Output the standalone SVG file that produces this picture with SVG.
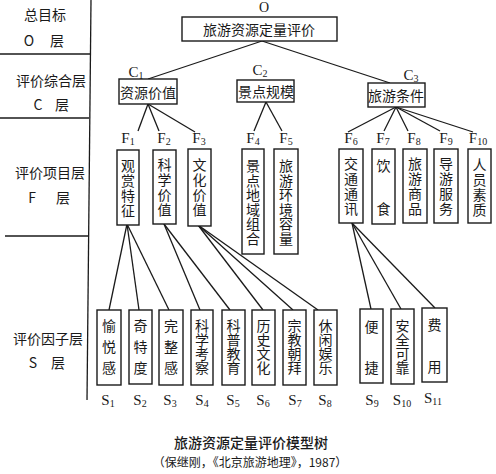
<svg xmlns="http://www.w3.org/2000/svg" width="496" height="474" viewBox="0 0 496 474">
<style>
.bg{fill:#fff}
.box{fill:#fff;stroke:#1a1a1a;stroke-width:1.4}
.ln{stroke:#1a1a1a;stroke-width:1.3;fill:none}
.cj{font-family:"Noto Sans CJK SC","Noto Sans",sans-serif;font-size:14px;fill:#1a1a1a;text-anchor:middle;dominant-baseline:central}
.vt{font-family:"Noto Sans CJK SC","Noto Sans",sans-serif;font-size:14px;fill:#1a1a1a;writing-mode:vertical-rl;text-anchor:start;dominant-baseline:central}
.lt{font-family:"Liberation Serif","DejaVu Serif",serif;font-size:15px;fill:#1a1a1a;text-anchor:middle}
.sub{font-size:10px}
.ttl{font-family:"Noto Sans CJK SC",sans-serif;font-size:14px;font-weight:500;fill:#1a1a1a;text-anchor:middle}
.cap{font-family:"Noto Sans CJK SC",sans-serif;font-size:12px;fill:#1a1a1a;text-anchor:middle}
</style>
<rect class="bg" x="0" y="0" width="496" height="474"/>
<g id="layers">
<line class="ln" x1="91" y1="0" x2="87" y2="400"/>
<line class="ln" x1="0" y1="54" x2="90" y2="54"/>
<line class="ln" x1="0" y1="118" x2="89" y2="118"/>
<line class="ln" x1="5" y1="236" x2="88" y2="236"/>
<text class="cj" x="45" y="14">总目标</text>
<text class="cj" x="29" y="40">O</text><text class="cj" x="57" y="40">层</text>
<text class="cj" x="51" y="80">评价综合层</text>
<text class="cj" x="38" y="104">C</text><text class="cj" x="62" y="104">层</text>
<text class="cj" x="50" y="172">评价项目层</text>
<text class="cj" x="32" y="197">F</text><text class="cj" x="63" y="197">层</text>
<text class="cj" x="48" y="338">评价因子层</text>
<text class="cj" x="33" y="362">S</text><text class="cj" x="58" y="362">层</text>
</g>
<g id="connectors">
<line class="ln" x1="262" y1="41" x2="148" y2="79"/>
<line class="ln" x1="262" y1="41" x2="390" y2="83"/>
<line class="ln" x1="148" y1="104" x2="138" y2="131"/>
<line class="ln" x1="148" y1="104" x2="159" y2="131"/>
<line class="ln" x1="148" y1="104" x2="195" y2="132"/>
<line class="ln" x1="266" y1="102" x2="254" y2="131"/>
<line class="ln" x1="266" y1="102" x2="282" y2="131"/>
<line class="ln" x1="396" y1="107" x2="348" y2="132"/>
<line class="ln" x1="396" y1="107" x2="384" y2="131"/>
<line class="ln" x1="396" y1="107" x2="408" y2="131"/>
<line class="ln" x1="396" y1="107" x2="440" y2="131"/>
<line class="ln" x1="396" y1="107" x2="473" y2="132"/>
<line class="ln" x1="127" y1="224" x2="109" y2="310"/>
<line class="ln" x1="127" y1="224" x2="139" y2="310"/>
<line class="ln" x1="127" y1="224" x2="169" y2="310"/>
<line class="ln" x1="164" y1="224" x2="200" y2="310"/>
<line class="ln" x1="164" y1="224" x2="230" y2="310"/>
<line class="ln" x1="198" y1="225" x2="263" y2="310"/>
<line class="ln" x1="198" y1="225" x2="293" y2="310"/>
<line class="ln" x1="198" y1="225" x2="318" y2="310"/>
<line class="ln" x1="352" y1="223" x2="371" y2="309"/>
<line class="ln" x1="352" y1="223" x2="401" y2="309"/>
<line class="ln" x1="352" y1="223" x2="435" y2="308"/>
</g>
<g id="O">
<text class="lt" x="264" y="12" style="font-size:14px">O</text>
<rect class="box" x="182" y="17" width="155" height="24"/>
<text class="cj" x="259" y="29">旅游资源定量评价</text>
</g>
<g id="C1">
<text class="lt" x="136" y="77">C<tspan class="sub" dy="2">1</tspan></text>
<rect class="box" x="119" y="79" width="58" height="25"/>
<text class="cj" x="148" y="92">资源价值</text>
</g>
<g id="C2">
<text class="lt" x="260" y="75">C<tspan class="sub" dy="2">2</tspan></text>
<rect class="box" x="237" y="80" width="57" height="22"/>
<text class="cj" x="266" y="91">景点规模</text>
</g>
<g id="C3">
<text class="lt" x="411" y="80">C<tspan class="sub" dy="2">3</tspan></text>
<rect class="box" x="368" y="83" width="57" height="24"/>
<text class="cj" x="396" y="95">旅游条件</text>
</g>
<g id="F1">
<text class="lt" x="128" y="143">F<tspan class="sub" dy="2">1</tspan></text>
<rect class="box" x="117" y="150" width="22" height="75"/>
<text class="vt" x="128" y="159" style="letter-spacing:1px">观赏特征</text>
</g>
<g id="F2">
<text class="lt" x="164" y="143">F<tspan class="sub" dy="2">2</tspan></text>
<rect class="box" x="153" y="150" width="23" height="74"/>
<text class="vt" x="164.5" y="158" style="letter-spacing:1px">科学价值</text>
</g>
<g id="F3">
<text class="lt" x="199" y="143">F<tspan class="sub" dy="2">3</tspan></text>
<rect class="box" x="188" y="149" width="23" height="77"/>
<text class="vt" x="199.5" y="158" style="letter-spacing:1px">文化价值</text>
</g>
<g id="F4">
<text class="lt" x="253" y="143">F<tspan class="sub" dy="2">4</tspan></text>
<rect class="box" x="242" y="149" width="22" height="105"/>
<text class="vt" x="253" y="159" style="letter-spacing:0.5px">景点地域组合</text>
</g>
<g id="F5">
<text class="lt" x="286" y="143">F<tspan class="sub" dy="2">5</tspan></text>
<rect class="box" x="274" y="149" width="24" height="105"/>
<text class="vt" x="286" y="159" style="letter-spacing:0.5px">旅游环境容量</text>
</g>
<g id="F6">
<text class="lt" x="351" y="143">F<tspan class="sub" dy="2">6</tspan></text>
<rect class="box" x="339" y="149" width="24" height="74"/>
<text class="vt" x="351" y="157" style="letter-spacing:1px">交通通讯</text>
</g>
<g id="F7">
<text class="lt" x="383" y="143">F<tspan class="sub" dy="2">7</tspan></text>
<rect class="box" x="372" y="149" width="23" height="75"/>
<text class="vt" x="383.5" y="159" style="letter-spacing:29px">饮食</text>
</g>
<g id="F8">
<text class="lt" x="414" y="143">F<tspan class="sub" dy="2">8</tspan></text>
<rect class="box" x="403" y="149" width="24" height="74"/>
<text class="vt" x="415" y="157" style="letter-spacing:1px">旅游商品</text>
</g>
<g id="F9">
<text class="lt" x="446" y="143">F<tspan class="sub" dy="2">9</tspan></text>
<rect class="box" x="434" y="149" width="24" height="74"/>
<text class="vt" x="446" y="157" style="letter-spacing:1px">导游服务</text>
</g>
<g id="F10">
<text class="lt" x="478" y="143">F<tspan class="sub" dy="2">10</tspan></text>
<rect class="box" x="468" y="149" width="23" height="74"/>
<text class="vt" x="479.5" y="158" style="letter-spacing:1px">人员素质</text>
</g>
<g id="S1">
<rect class="box" x="97" y="310" width="24" height="75"/>
<text class="vt" x="109" y="319" style="letter-spacing:7px">愉悦感</text>
<text class="lt" x="108" y="405">S<tspan class="sub" dy="2">1</tspan></text>
</g>
<g id="S2">
<rect class="box" x="129" y="310" width="23" height="74"/>
<text class="vt" x="140.5" y="319" style="letter-spacing:7px">奇特度</text>
<text class="lt" x="140" y="405">S<tspan class="sub" dy="2">2</tspan></text>
</g>
<g id="S3">
<rect class="box" x="159" y="310" width="24" height="75"/>
<text class="vt" x="171" y="319" style="letter-spacing:7px">完整感</text>
<text class="lt" x="170" y="405">S<tspan class="sub" dy="2">3</tspan></text>
</g>
<g id="S4">
<rect class="box" x="191" y="310" width="22" height="75"/>
<text class="vt" x="202" y="319">科学考察</text>
<text class="lt" x="202" y="405">S<tspan class="sub" dy="2">4</tspan></text>
</g>
<g id="S5">
<rect class="box" x="222" y="310" width="23" height="75"/>
<text class="vt" x="233.5" y="319">科普教育</text>
<text class="lt" x="233" y="405">S<tspan class="sub" dy="2">5</tspan></text>
</g>
<g id="S6">
<rect class="box" x="252" y="310" width="23" height="75"/>
<text class="vt" x="263.5" y="319">历史文化</text>
<text class="lt" x="263" y="405">S<tspan class="sub" dy="2">6</tspan></text>
</g>
<g id="S7">
<rect class="box" x="283" y="310" width="23" height="75"/>
<text class="vt" x="294.5" y="319">宗教朝拜</text>
<text class="lt" x="295" y="405">S<tspan class="sub" dy="2">7</tspan></text>
</g>
<g id="S8">
<rect class="box" x="314" y="310" width="23" height="75"/>
<text class="vt" x="325.5" y="319">休闲娱乐</text>
<text class="lt" x="325" y="405">S<tspan class="sub" dy="2">8</tspan></text>
</g>
<g id="S9">
<rect class="box" x="360" y="309" width="23" height="74"/>
<text class="vt" x="371.5" y="320" style="letter-spacing:27px">便捷</text>
<text class="lt" x="372" y="405">S<tspan class="sub" dy="2">9</tspan></text>
</g>
<g id="S10">
<rect class="box" x="391" y="309" width="23" height="75"/>
<text class="vt" x="402.5" y="319">安全可靠</text>
<text class="lt" x="402" y="405">S<tspan class="sub" dy="2">10</tspan></text>
</g>
<g id="S11">
<rect class="box" x="422" y="308" width="25" height="74"/>
<text class="vt" x="434.5" y="318" style="letter-spacing:28px">费用</text>
<text class="lt" x="433" y="403">S<tspan class="sub" dy="2">11</tspan></text>
</g>
<g id="caption">
<text class="ttl" x="251" y="448">旅游资源定量评价模型树</text>
<text class="cap" x="250" y="467">（保继刚，《北京旅游地理》，1987）</text>
</g>
</svg>
